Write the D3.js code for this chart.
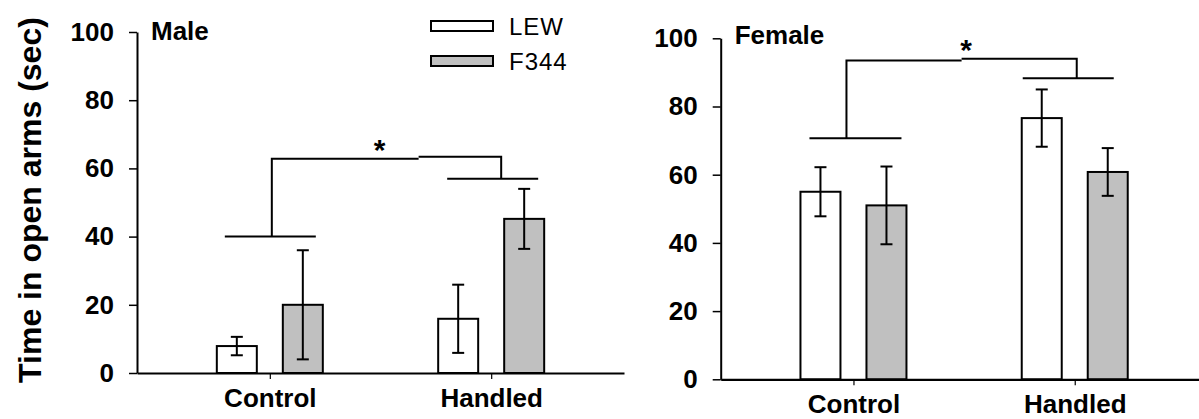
<!DOCTYPE html>
<html>
<head>
<meta charset="utf-8">
<script src="https://cdn.jsdelivr.net/npm/d3@7"></script>
<style>
  html, body { margin: 0; padding: 0; background: #fff; }
  svg { display: block; }
  text { font-family: "Liberation Sans", Arial, sans-serif; fill: #000; }
</style>
</head>
<body>
<svg id="chart" width="1199" height="419"></svg>
<script>
// ---------------- data ----------------
const categories = ["Control", "Handled"];
const strains = ["LEW", "F344"];
const yTicks = [0, 20, 40, 60, 80, 100];
const panelLabels = ["Male", "Female"];

const maleLEW = [7.9, 15.9];
const maleLEWErr = [2.7, 10.0];
const maleF344 = [20.0, 45.2];
const maleF344Err = [16.0, 8.8];

const femaleLEW = [55.0, 76.6];
const femaleLEWErr = [7.2, 8.4];
const femaleF344 = [51.0, 60.8];
const femaleF344Err = [11.4, 7.0];

// significance bracket levels: [control group line, handled group line, top line (left part), top line (right part), asterisk]
const maleSig = [40.0, 57.0, 62.8, 63.4, 66.9];
const femaleSig = [70.7, 88.3, 93.5, 94.0, 98.1];
const sigMark = "*";

// ---------------- layout ----------------
const svg = d3.select("#chart");
const FONT = "'Liberation Sans', Arial, sans-serif";

const panels = [
  {
    label: panelLabels[0], lew: maleLEW, lewErr: maleLEWErr, f344: maleF344, f344Err: maleF344Err, sig: maleSig,
    x0: 137, x1: 624, yTop: 32, yBottom: 373,
    ctrlSpan: [-45, 46], ctrlV: 2, handSpan: [-44, 47], handV: 10, breakFrac: 0.64, starFrac: 0.47,
    legend: true
  },
  {
    label: panelLabels[1], lew: femaleLEW, lewErr: femaleLEWErr, f344: femaleF344, f344Err: femaleF344Err, sig: femaleSig,
    x0: 720.7, x1: 1207.5, yTop: 38.3, yBottom: 379.3,
    ctrlSpan: [-44, 48], ctrlV: -7, handSpan: [-52, 39], handV: 2, breakFrac: 0.5, starFrac: 0.52,
    legend: false
  }
];

const fills = { LEW: "#ffffff", F344: "#c0c0c0" };

panels.forEach(p => {
  const g = svg.append("g");
  const y = d3.scaleLinear().domain([0, 100]).range([p.yBottom, p.yTop]);
  const x = d3.scalePoint().domain(categories).range([p.x0, p.x1]).padding(0.6);
  const inner = d3.scaleBand().domain(strains).range([-53, 53]).paddingInner(0.394);

  // bars
  const rows = [];
  categories.forEach((c, i) => {
    rows.push({ cat: c, strain: "LEW", v: p.lew[i], e: p.lewErr[i] });
    rows.push({ cat: c, strain: "F344", v: p.f344[i], e: p.f344Err[i] });
  });

  g.selectAll("rect.bar").data(rows).join("rect")
    .attr("class", "bar")
    .attr("x", d => x(d.cat) + inner(d.strain))
    .attr("width", inner.bandwidth())
    .attr("y", d => y(d.v))
    .attr("height", d => y(0) - y(d.v))
    .attr("fill", d => fills[d.strain])
    .attr("stroke", "#000")
    .attr("stroke-width", 2);

  // error bars
  const cap = 6;
  const eg = g.selectAll("g.err").data(rows).join("g").attr("class", "err")
    .attr("stroke", "#000").attr("stroke-width", 2);
  eg.append("line")
    .attr("x1", d => x(d.cat) + inner(d.strain) + inner.bandwidth() / 2)
    .attr("x2", d => x(d.cat) + inner(d.strain) + inner.bandwidth() / 2)
    .attr("y1", d => y(d.v + d.e)).attr("y2", d => y(d.v - d.e));
  [1, -1].forEach(s => {
    eg.append("line")
      .attr("x1", d => x(d.cat) + inner(d.strain) + inner.bandwidth() / 2 - cap)
      .attr("x2", d => x(d.cat) + inner(d.strain) + inner.bandwidth() / 2 + cap)
      .attr("y1", d => y(d.v + s * d.e)).attr("y2", d => y(d.v + s * d.e));
  });

  // axes
  const yAxis = d3.axisLeft(y).tickValues(yTicks).tickSize(8).tickSizeOuter(0).tickPadding(15);
  const ya = g.append("g").attr("transform", `translate(${p.x0},0)`).call(yAxis);
  ya.select(".domain").attr("stroke-width", 2);
  ya.selectAll(".tick line").attr("stroke-width", 1.5);
  ya.selectAll(".tick text").attr("font-size", 26).attr("font-weight", "bold").attr("font-family", FONT);

  const xAxis = d3.axisBottom(x).tickSize(6).tickSizeOuter(0);
  const xa = g.append("g").attr("transform", `translate(0,${p.yBottom})`).call(xAxis);
  xa.select(".domain").attr("stroke-width", 2.2);
  xa.selectAll(".tick line").attr("stroke-width", 1.2);
  xa.selectAll(".tick text").attr("font-size", 26).attr("font-weight", "bold").attr("font-family", FONT)
    .attr("y", 34).attr("dy", 0);

  // panel label
  g.append("text").attr("x", p.x0 + 14).attr("y", p.yTop + (p.legend ? 8 : 6))
    .attr("font-size", 26).attr("font-weight", "bold").text(p.label);

  // significance brackets
  const [lvC, lvH, lvT1, lvT2, lvStar] = p.sig;
  const cx = x(categories[0]), hx = x(categories[1]);
  const vC = cx + p.ctrlV, vH = hx + p.handV;
  const brk = vC + (vH - vC) * p.breakFrac;
  const sg = g.append("g").attr("stroke", "#000").attr("stroke-width", 2).attr("fill", "none");
  sg.append("line").attr("x1", cx + p.ctrlSpan[0]).attr("x2", cx + p.ctrlSpan[1]).attr("y1", y(lvC)).attr("y2", y(lvC));
  sg.append("line").attr("x1", hx + p.handSpan[0]).attr("x2", hx + p.handSpan[1]).attr("y1", y(lvH)).attr("y2", y(lvH));
  sg.append("path").attr("d", `M${vC},${y(lvC)}V${y(lvT1)}H${brk}`);
  sg.append("path").attr("d", `M${brk},${y(lvT2)}H${vH}V${y(lvH)}`);
  g.append("text").attr("x", vC + (vH - vC) * p.starFrac).attr("y", y(lvStar) + 15)
    .attr("text-anchor", "middle").attr("font-size", 30).attr("font-weight", "bold").text(sigMark);

  // legend
  if (p.legend) {
    const lg = g.append("g");
    strains.forEach((s, i) => {
      lg.append("rect").attr("x", 431).attr("y", 21 + i * 35).attr("width", 62).attr("height", 10)
        .attr("fill", fills[s]).attr("stroke", "#000").attr("stroke-width", 2);
      lg.append("text").attr("x", 509).attr("y", 35 + i * 35).attr("font-size", 24)
        .attr("letter-spacing", 1).text(s);
    });
  }
});

// y-axis title
svg.append("text")
  .attr("transform", "translate(41,200) rotate(-90)")
  .attr("text-anchor", "middle")
  .attr("font-size", 32).attr("font-weight", "bold")
  .text("Time in open arms (sec)");
</script>
</body>
</html>
